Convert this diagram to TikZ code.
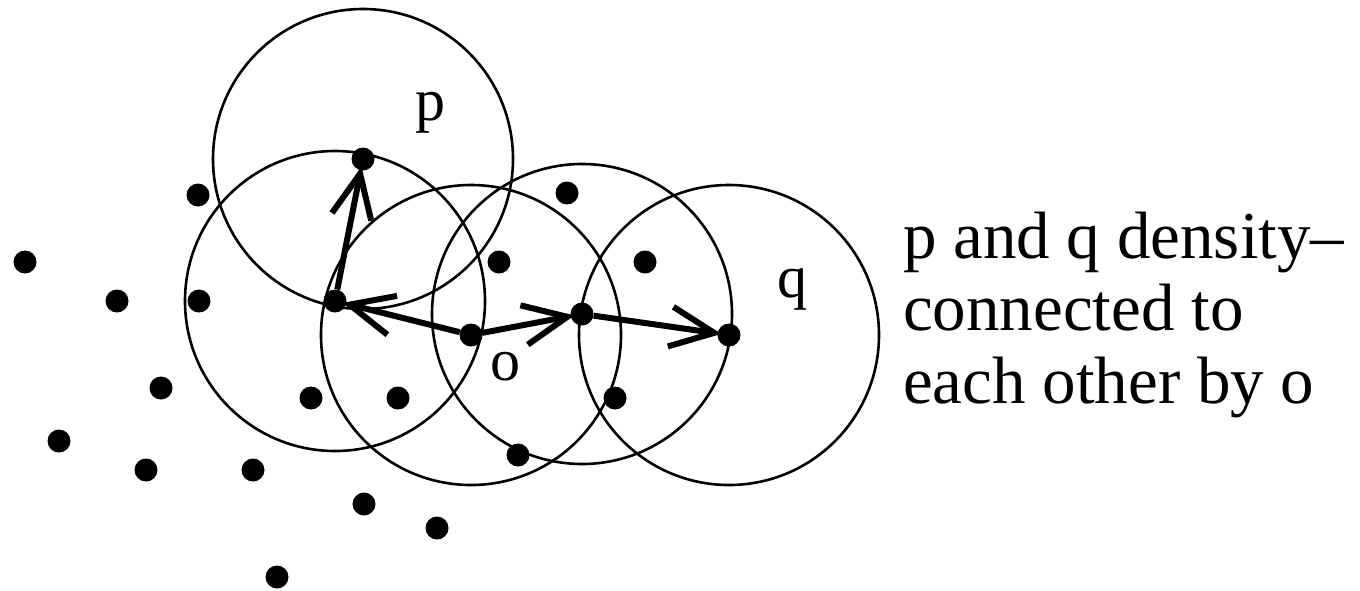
\documentclass[tikz,border=0pt]{standalone}
\usepackage{fontspec}
\setmainfont{Liberation Serif}
\usetikzlibrary{arrows.meta}
\begin{document}
\begin{tikzpicture}[x=1pt,y=-1pt,
  ring/.style={line width=2.6pt},
  dot/.style={circle,fill=black,inner sep=0pt,minimum size=23pt},
  link/.style={line width=6pt,-{Straight Barb[length=44pt,width=40pt]},shorten >=-4pt},
  lbl/.style={font=\fontsize{60}{60}\selectfont,inner sep=0pt,anchor=base},
  txt/.style={font=\fontsize{67}{72}\selectfont,inner sep=0pt,anchor=base west}]
\useasboundingbox (0,0) rectangle (1360,590);
% centres of the neighbourhoods
\coordinate (cp) at (363,159);
\coordinate (ca) at (335,301);
\coordinate (co) at (471,335);
\coordinate (cm) at (582,314);
\coordinate (cq) at (729,335);
\foreach \c in {cp,ca,co,cm,cq} \draw[ring] (\c) circle[radius=150];
% points on the chain
\node[dot] (p) at (cp) {};
\node[dot] (a) at (ca) {};
\node[dot] (o) at (co) {};
\node[dot] (m) at (cm) {};
\node[dot] (q) at (cq) {};
% other points
\foreach \x/\y [count=\i] in {25/262,117/301,198/195,199/301,161/388,59/441,146/470,253/470,311/398,398/398,364/504,437/528,277/577,499/262,567/193,645/262,615/398,518/455}
  \node[dot] (d\i) at (\x,\y) {};
% arrows
\draw[link] (a) -- (p);
\draw[link] (o) -- (a);
\draw[link] (o) -- (m);
\draw[link] (m) -- (q);
% labels
\node[lbl] (lp) at (430,120) {p};
\node[lbl] (lo) at (505,380) {o};
\node[lbl] (lq) at (792,297) {q};
\node[txt] (t1) at (903,258) {p and q density–};
\node[txt] (t2) at (903,330) {connected to};
\node[txt] (t3) at (903,403) {each other by o};
\end{tikzpicture}
\end{document}
